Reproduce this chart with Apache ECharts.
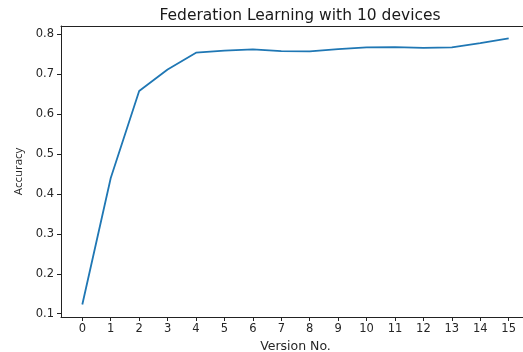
<!DOCTYPE html>
<html>
<head>
<meta charset="utf-8">
<script src="https://cdn.jsdelivr.net/npm/echarts@6/dist/echarts.min.js"></script>
<style>html,body{margin:0;padding:0;background:#fff;}#c{width:523px;height:352px;}</style>
</head>
<body>
<div id="c"></div>
<script>
const versions = [0,1,2,3,4,5,6,7,8,9,10,11,12,13,14,15];
const accuracy = [0.123,0.440,0.658,0.712,0.754,0.759,0.762,0.758,0.757,0.763,0.767,0.768,0.766,0.767,0.778,0.790];
const xTicks = [0,1,2,3,4,5,6,7,8,9,10,11,12,13,14,15];
const yTicks = [0.1,0.2,0.3,0.4,0.5,0.6,0.7,0.8];
const titleText = 'Federation Learning with 10 devices';
const xName = 'Version No.';
const yName = 'Accuracy';

const chart = echarts.init(document.getElementById('c'), null, {renderer:'canvas'});
const tickColor = '#262626';
const font = 'DejaVu Sans';
chart.setOption({
  animation: false,
  title: {
    text: titleText, left: 295, top: 3, textAlign: 'center',
    textStyle: {fontFamily: font, fontSize: 15.5, fontWeight: 'normal', color: '#1a1a1a'}
  },
  grid: {left: 61, top: 26, right: -7, bottom: 35, containLabel: false, outerBoundsMode: 'none'},
  xAxis: [{
    type: 'value', min: -0.75, max: 15.75, position: 'bottom',
    name: xName, nameLocation: 'middle', nameGap: 21,
    nameTextStyle: {fontFamily: font, fontSize: 12.5, color: tickColor},
    axisLine: {show: true, onZero: false, lineStyle: {color: '#222', width: 1}},
    axisTick: {show: true, customValues: xTicks, length: 4, lineStyle: {color: '#222'}},
    axisLabel: {customValues: xTicks, fontFamily: font, fontSize: 11.5, color: tickColor, margin: 6},
    splitLine: {show: false}
  }, {
    type: 'value', min: -0.75, max: 15.75, position: 'top',
    axisLine: {show: true, onZero: false, lineStyle: {color: '#222', width: 1}},
    axisTick: {show: false}, axisLabel: {show: false}, splitLine: {show: false}
  }],
  yAxis: {
    type: 'value', min: 0.0917, max: 0.8208,
    name: yName, nameLocation: 'middle', nameGap: 36, nameRotate: 90,
    nameTextStyle: {fontFamily: 'Open Sans', fontSize: 11.5, color: tickColor},
    axisLine: {show: true, onZero: false, lineStyle: {color: '#222', width: 1}},
    axisTick: {show: true, customValues: yTicks, length: 4, lineStyle: {color: '#222'}},
    axisLabel: {customValues: yTicks, fontFamily: font, fontSize: 11.5, color: tickColor, margin: 7,
      formatter: v => v.toFixed(1)},
    splitLine: {show: false}
  },
  series: [{
    type: 'line', xAxisIndex: 0,
    data: versions.map((v, i) => [v, accuracy[i]]),
    showSymbol: false, symbol: 'none',
    lineStyle: {color: '#1f77b4', width: 1.8}
  }]
});
</script>
</body>
</html>
